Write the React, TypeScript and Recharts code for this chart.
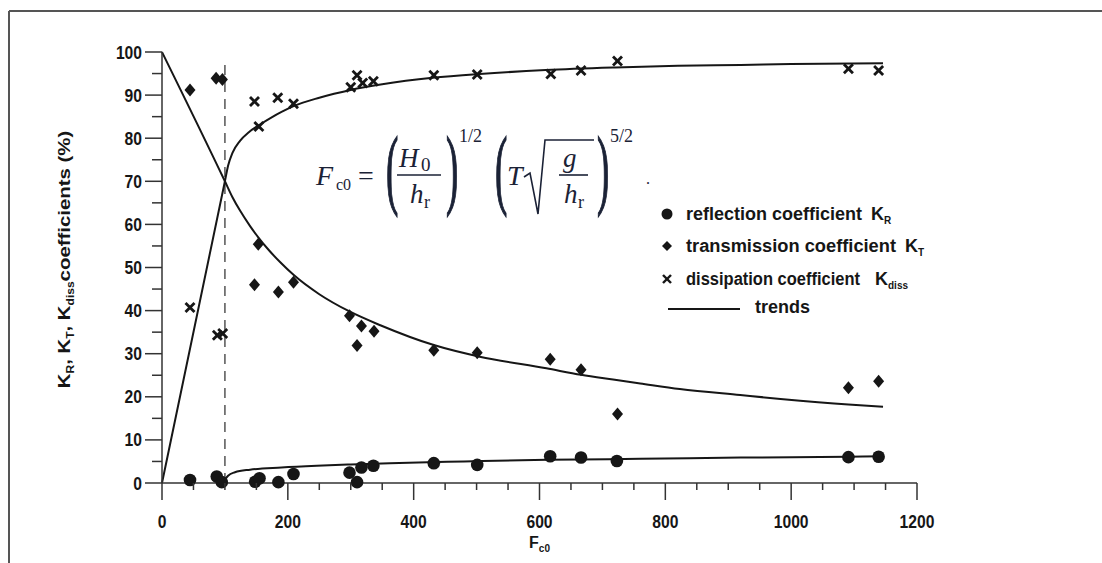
import React from 'react';
import {
  ComposedChart,
  XAxis,
  YAxis,
  Scatter,
  Line,
  ReferenceLine,
  Legend,
} from 'recharts';

type Pt = { f: number; k: number };

// tick values (labels only on the major ones)
const xTicks = [0, 50, 100, 150, 200, 250, 300, 350, 400, 450, 500, 550, 600, 650, 700, 750, 800, 850, 900, 950, 1000, 1050, 1100, 1150, 1200];
const yTicks = [0, 5, 10, 15, 20, 25, 30, 35, 40, 45, 50, 55, 60, 65, 70, 75, 80, 85, 90, 95, 100];

const criticalF = 100;
const dashTop = 98;

// measured points
const reflection: Pt[] = [
  { f: 44.5, k: 0.7 }, { f: 87, k: 1.5 }, { f: 95, k: 0.2 }, { f: 148, k: 0.3 },
  { f: 155, k: 1.1 }, { f: 185, k: 0.2 }, { f: 209, k: 2.1 }, { f: 298, k: 2.4 },
  { f: 310, k: 0.2 }, { f: 317, k: 3.6 }, { f: 336, k: 4.0 }, { f: 432, k: 4.6 },
  { f: 501, k: 4.2 }, { f: 617, k: 6.2 }, { f: 666, k: 5.9 }, { f: 723, k: 5.1 },
  { f: 1091, k: 6.0 }, { f: 1139, k: 6.1 },
];

const transmission: Pt[] = [
  { f: 44.5, k: 91.2 }, { f: 86, k: 93.9 }, { f: 96, k: 93.6 }, { f: 147, k: 46.0 },
  { f: 153, k: 55.4 }, { f: 185, k: 44.3 }, { f: 209, k: 46.6 }, { f: 298, k: 38.8 },
  { f: 310, k: 31.9 }, { f: 317, k: 36.4 }, { f: 337, k: 35.2 }, { f: 432, k: 30.8 },
  { f: 501, k: 30.2 }, { f: 617, k: 28.7 }, { f: 666, k: 26.3 }, { f: 724, k: 16.0 },
  { f: 1091, k: 22.1 }, { f: 1139, k: 23.6 },
];

const dissipation: Pt[] = [
  { f: 44.5, k: 40.7 }, { f: 88, k: 34.3 }, { f: 96.5, k: 34.7 }, { f: 147, k: 88.5 },
  { f: 154, k: 82.7 }, { f: 184, k: 89.4 }, { f: 209, k: 88.0 }, { f: 300, k: 91.8 },
  { f: 310, k: 94.6 }, { f: 319, k: 92.8 }, { f: 336, k: 93.2 }, { f: 432, k: 94.6 },
  { f: 501, k: 94.8 }, { f: 618, k: 94.9 }, { f: 666, k: 95.7 }, { f: 724, k: 97.9 },
  { f: 1091, k: 96.1 }, { f: 1139, k: 95.7 },
];

// trend curves
const trendR: Pt[] = [
  { f: 100, k: 0.8 }, { f: 105, k: 1.7 }, { f: 116, k: 2.5 }, { f: 140, k: 3.1 },
  { f: 190, k: 3.6 }, { f: 246, k: 4.0 }, { f: 300, k: 4.3 }, { f: 362, k: 4.6 },
  { f: 480, k: 5.0 }, { f: 613, k: 5.4 }, { f: 760, k: 5.6 }, { f: 920, k: 5.9 },
  { f: 1091, k: 6.1 }, { f: 1146, k: 6.2 },
];

const trendT: Pt[] = [
  { f: 0, k: 100 }, { f: 100, k: 70 }, { f: 112, k: 66.3 }, { f: 124, k: 63.2 },
  { f: 140, k: 59.6 }, { f: 153, k: 57.0 }, { f: 170, k: 54.0 }, { f: 188, k: 51.2 },
  { f: 209, k: 48.3 }, { f: 250, k: 43.8 }, { f: 298, k: 39.8 }, { f: 347, k: 36.6 },
  { f: 432, k: 32.0 }, { f: 505, k: 29.3 }, { f: 611, k: 26.6 }, { f: 666, k: 25.1 },
  { f: 717, k: 24.0 }, { f: 760, k: 23.1 }, { f: 823, k: 21.8 }, { f: 919, k: 20.4 },
  { f: 983, k: 19.5 }, { f: 1091, k: 18.2 }, { f: 1146, k: 17.7 },
];

const trendD: Pt[] = [
  { f: 0, k: 0 }, { f: 100, k: 70 }, { f: 105, k: 73.6 }, { f: 112, k: 76.6 },
  { f: 124, k: 79.4 }, { f: 138, k: 81.4 }, { f: 154, k: 83 }, { f: 175, k: 84.9 },
  { f: 190, k: 86.1 }, { f: 210, k: 87.5 }, { f: 250, k: 89.4 }, { f: 300, k: 91.2 },
  { f: 350, k: 92.5 }, { f: 430, k: 94.0 }, { f: 505, k: 94.9 }, { f: 610, k: 95.8 },
  { f: 720, k: 96.4 }, { f: 820, k: 96.8 }, { f: 920, k: 97 }, { f: 1000, k: 97.2 },
  { f: 1146, k: 97.4 },
];

const INK = '#161616';
const SANS = "'Liberation Sans', Arial, sans-serif";
const SERIF = "'Liberation Serif', 'Times New Roman', serif";
const EQ = '#1b2236';

const Dot = (props: any) => <circle cx={props.cx} cy={props.cy} r={6.3} fill={INK} />;

const Diamond = (props: any) => {
  const { cx, cy } = props;
  return <path d={`M${cx},${cy - 6.5}L${cx + 5.5},${cy}L${cx},${cy + 6.5}L${cx - 5.5},${cy}Z`} fill={INK} />;
};

const Cross = (props: any) => {
  const { cx, cy } = props;
  const s = 4.5;
  return (
    <g stroke={INK} strokeWidth={2.8}>
      <line x1={cx - s} y1={cy - s} x2={cx + s} y2={cy + s} />
      <line x1={cx - s} y1={cy + s} x2={cx + s} y2={cy - s} />
    </g>
  );
};

const XTick = (props: any) => {
  const { x, y, payload } = props;
  const major = payload.value % 200 === 0;
  return (
    <g>
      <line x1={x} y1={y} x2={x} y2={y + (major ? 17 : 7)} stroke="#333" strokeWidth={1.5} />
      {major && (
        <text transform={`translate(${x},${y + 45}) scale(0.87,1)`} textAnchor="middle"
          fontSize={18} fontWeight="bold" fontFamily={SANS} fill={INK}>
          {payload.value}
        </text>
      )}
    </g>
  );
};

const YTick = (props: any) => {
  const { x, y, payload } = props;
  const major = payload.value % 10 === 0;
  return (
    <g>
      <line x1={x - (major ? 17 : 10)} y1={y} x2={x} y2={y} stroke="#333" strokeWidth={1.5} />
      {major && (
        <text transform={`translate(${x - 20},${y + 6.5}) scale(0.87,1)`} textAnchor="end"
          fontSize={18} fontWeight="bold" fontFamily={SANS} fill={INK}>
          {payload.value}
        </text>
      )}
    </g>
  );
};

const YTitle = (props: any) => {
  const vb = props.viewBox || { x: 102, y: 52, width: 60, height: 431 };
  const cx = vb.x - 32;
  const cy = vb.y + vb.height / 2 - 8;
  return (
    <text transform={`translate(${cx},${cy}) rotate(-90) scale(1.2,1)`} textAnchor="middle"
      fontSize={17} fontWeight="bold" fontFamily={SANS} fill={INK}>
      K<tspan fontSize={10} dy={4}>R</tspan>
      <tspan dy={-4}>, K</tspan><tspan fontSize={10} dy={4}>T</tspan>
      <tspan dy={-4}>, K</tspan><tspan fontSize={10} dy={4}>diss</tspan>
      <tspan dy={-4}>coefficients (%)</tspan>
    </text>
  );
};

const XTitle = (props: any) => {
  const vb = props.viewBox || { x: 162, y: 483, width: 755, height: 80 };
  return (
    <text x={vb.x + vb.width / 2} y={vb.y + 65} textAnchor="middle"
      fontSize={16} fontWeight="bold" fontFamily={SANS} fill={INK}>
      F<tspan fontSize={10} dy={4}>c0</tspan>
    </text>
  );
};

const LegendBox = () => {
  const t = { fontSize: 18, fontWeight: 'bold' as const, fontFamily: SANS, fill: INK, lengthAdjust: 'spacingAndGlyphs' as const };
  return (
    <svg width={300} height={130} style={{ overflow: 'visible' }}>
      <circle cx={17} cy={19} r={5.5} fill={INK} />
      <text x={36} y={25} textLength={176} {...t}>reflection coefficient</text>
      <text x={221} y={25} {...t}>K<tspan fontSize={10} dy={4}>R</tspan></text>

      <path d="M17,46L22,51L17,56L12,51Z" fill={INK} />
      <text x={36} y={57} textLength={210} {...t}>transmission coefficient</text>
      <text x={255} y={57} {...t}>K<tspan fontSize={10} dy={4}>T</tspan></text>

      <g stroke={INK} strokeWidth={2.4}>
        <line x1={13} y1={80} x2={21} y2={88} />
        <line x1={13} y1={88} x2={21} y2={80} />
      </g>
      <text x={36} y={90} textLength={174} {...t}>dissipation coefficient</text>
      <text x={225} y={90} {...t}>K<tspan fontSize={10} dy={4}>diss</tspan></text>

      <line x1={18} y1={114} x2={90} y2={114} stroke={INK} strokeWidth={2} />
      <text x={105} y={118} {...t}>trends</text>
    </svg>
  );
};

const Formula = () => {
  const it = { fontFamily: SERIF, fontStyle: 'italic' as const, fill: EQ };
  const rm = { fontFamily: SERIF, fill: EQ };
  const par = { fontFamily: SERIF, fill: EQ, stroke: EQ, strokeWidth: 1.6 };
  return (
    <g>
      <text x={316} y={185} fontSize={28} {...it}>F</text>
      <text x={336} y={190} fontSize={16} {...rm}>c0</text>
      <text x={358} y={185} fontSize={28} {...rm}>=</text>

      <text transform="translate(386,198) scale(0.42,1)" fontSize={88} {...par}>(</text>
      <text x={399} y={167} fontSize={27} {...it}>H</text>
      <text x={421} y={171} fontSize={19} {...rm}>0</text>
      <line x1={397} y1={175} x2={441} y2={175} stroke={EQ} strokeWidth={1.6} />
      <text x={410} y={203} fontSize={27} {...it}>h</text>
      <text x={424} y={208} fontSize={18} {...rm}>r</text>
      <text transform="translate(446,198) scale(0.42,1)" fontSize={88} {...par}>)</text>
      <text x={459} y={142} fontSize={18} {...rm}>1/2</text>

      <text transform="translate(495,198) scale(0.42,1)" fontSize={88} {...par}>(</text>
      <text x={507} y={185} fontSize={28} {...it}>T</text>
      <path d="M524,177L530,173L538,214L545,140L594,140" fill="none" stroke={EQ} strokeWidth={1.6} />
      <text x={563} y={167} fontSize={27} {...it}>g</text>
      <line x1={559} y1={175} x2={588} y2={175} stroke={EQ} strokeWidth={1.6} />
      <text x={564} y={203} fontSize={27} {...it}>h</text>
      <text x={578} y={208} fontSize={18} {...rm}>r</text>
      <text transform="translate(597,198) scale(0.42,1)" fontSize={88} {...par}>)</text>
      <text x={610} y={142} fontSize={18} {...rm}>5/2</text>
      <text x={646} y={184} fontSize={16} {...rm}>.</text>
    </g>
  );
};

export default function App() {
  return (
    <div style={{ position: 'fixed', left: 0, top: 0, width: 1102, height: 563, background: '#fff', overflow: 'hidden' }}>
      <ComposedChart width={1102} height={563} margin={{ top: 52, right: 185, bottom: 0, left: 102 }}>
        <XAxis
          type="number"
          dataKey="f"
          domain={[0, 1200]}
          ticks={xTicks}
          interval={0}
          height={80}
          tickSize={0}
          tickMargin={0}
          tickLine={false}
          tick={<XTick />}
          axisLine={{ stroke: '#333', strokeWidth: 1.5 }}
          label={<XTitle />}
        />
        <YAxis
          type="number"
          dataKey="k"
          domain={[0, 100]}
          ticks={yTicks}
          interval={0}
          width={60}
          tickSize={0}
          tickMargin={0}
          tickLine={false}
          tick={<YTick />}
          axisLine={{ stroke: '#333', strokeWidth: 1.5 }}
          label={<YTitle />}
        />
        <ReferenceLine
          segment={[{ x: criticalF, y: 0 }, { x: criticalF, y: dashTop }]}
          stroke="#555"
          strokeWidth={1.5}
          strokeDasharray="10 7"
        />
        <Line data={trendT} dataKey="k" type="monotone" dot={false} activeDot={false} stroke={INK} strokeWidth={2} isAnimationActive={false} legendType="none" />
        <Line data={trendD} dataKey="k" type="monotone" dot={false} activeDot={false} stroke={INK} strokeWidth={2} isAnimationActive={false} legendType="none" />
        <Line data={trendR} dataKey="k" type="monotone" dot={false} activeDot={false} stroke={INK} strokeWidth={2} isAnimationActive={false} legendType="none" />
        <Scatter name="reflection coefficient" data={reflection} dataKey="k" shape={<Dot />} isAnimationActive={false} />
        <Scatter name="transmission coefficient" data={transmission} dataKey="k" shape={<Diamond />} isAnimationActive={false} />
        <Scatter name="dissipation coefficient" data={dissipation} dataKey="k" shape={<Cross />} isAnimationActive={false} />
        <Legend
          layout="vertical"
          align="center"
          verticalAlign="middle"
          content={<LegendBox />}
          wrapperStyle={{ left: 650, top: 195, width: 300, height: 130 }}
        />
      </ComposedChart>
      <svg width={1102} height={563} style={{ position: 'absolute', left: 0, top: 0, pointerEvents: 'none' }}>
        <line x1={9} y1={11} x2={1102} y2={11} stroke="#555" strokeWidth={2} />
        <line x1={9} y1={11} x2={9} y2={563} stroke="#555" strokeWidth={2} />
        <Formula />
      </svg>
    </div>
  );
}
